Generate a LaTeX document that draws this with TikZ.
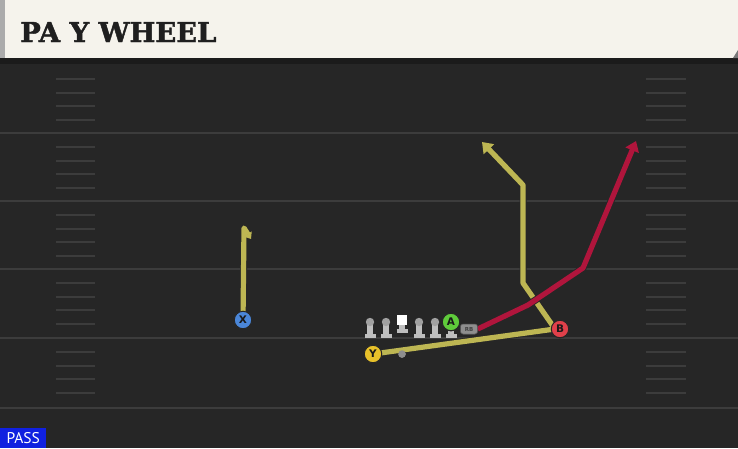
\documentclass[tikz,border=0pt]{standalone}
\usepackage{fontspec}
\usetikzlibrary{arrows.meta}
\newfontfamily\titlefont{DejaVu Serif}[BoldFeatures={FakeBold=1.6}]
\newfontfamily\labfont{DejaVu Sans}
\newfontfamily\passfont{PT Sans}
\definecolor{cream}{HTML}{F5F3EC}
\definecolor{stripgray}{HTML}{ABABAB}
\definecolor{fieldbg}{HTML}{262626}
\definecolor{bandbg}{HTML}{1B1B1B}
\definecolor{yardline}{HTML}{3C3C3C}
\definecolor{routey}{HTML}{BDB653}
\definecolor{router}{HTML}{B0153C}
\definecolor{pblue}{HTML}{4A86D8}
\definecolor{pyellow}{HTML}{E8C12A}
\definecolor{pred}{HTML}{E0404A}
\definecolor{pgreen}{HTML}{5FCB3B}
\definecolor{lgray}{HTML}{BEBEBE}
\definecolor{rbgray}{HTML}{8E8E8E}
\definecolor{passblue}{HTML}{1020E0}
\tikzset{
  player/.style={circle, draw=black!85, line width=1pt, minimum size=17.5pt, inner sep=0pt,
    font=\labfont\bfseries\fontsize{10.5}{10.5}\selectfont, text=black!90},
  route/.style={line width=5.2pt, line join=round, preaction={draw=black!85, line width=7pt}},
  yardl/.style={draw=yardline, line width=1.8pt},
  hashm/.style={draw=yardline, line width=1.3pt},
  rbbox/.style={fill=rbgray, draw=black!70, line width=0.5pt, rounded corners=2.5pt, minimum width=17pt, minimum height=10pt, inner sep=0pt,
    font=\labfont\bfseries\fontsize{5.5}{5.5}\selectfont, text=black!75},
  qbdot/.style={circle, fill=rbgray, minimum size=7.5pt, inner sep=0pt},
  lineman/.pic={
    \fill[lgray] (-5.5,-4) rectangle (5.5,0);
    \fill[lgray] (-3,-15) rectangle (3,-4);
    \fill[lgray!85!black] (0,-16) circle (4.2);
  },
  centerman/.pic={
    \fill[lgray] (-5.5,-4) rectangle (5.5,0);
    \fill[lgray] (-3,-8) rectangle (3,-4);
    \fill[white] (-4.8,-18) rectangle (4.8,-8);
  },
}
\begin{document}
\begin{tikzpicture}[x=1pt,y=-1pt]
\useasboundingbox (0,0) rectangle (738,448);
% field
\fill[fieldbg] (0,58) rectangle (738,448);
\fill[bandbg] (0,58) rectangle (738,64);
% yard lines
\foreach \yy in {133,201,269,338,408} {
  \draw[yardl] (0,\yy) -- (738,\yy);
}
% hash marks
\foreach \L in {65,133,201,269,338} {
  \foreach \d in {14,28,41,55} {
    \draw[hashm] (56,\L+\d) -- (95,\L+\d);
    \draw[hashm] (646,\L+\d) -- (686,\L+\d);
  }
}
% title bar
\fill[cream] (0,0) rectangle (738,58);
\fill[stripgray] (0,0) rectangle (5,58);
\fill[stripgray!70!black] (733,58) -- (738,50) -- (738,58) -- cycle;
\node[anchor=base west, inner sep=0pt, font=\titlefont\bfseries\fontsize{27.4}{28}\selectfont, text=black!88] (title) at (20,42) {PA Y WHEEL};
% pass tag
\node[fill=passblue, anchor=south west, minimum width=46pt, minimum height=20pt, inner sep=0pt,
  text=white, font=\passfont\fontsize{15.5}{16}\selectfont] (pass) at (0,448) {PASS};
% linemen
\foreach \xx in {370,386,419,435,451} {
  \pic at (\xx,338) {lineman};
}
\pic at (402,333) {centerman};
% coordinates
\coordinate (xa) at (244,228);
\coordinate (xb) at (251,239);
\coordinate (w1) at (555,329);
\coordinate (w2) at (523,283);
\coordinate (w3) at (523,185);
\coordinate (w4) at (482,142);
\coordinate (r1) at (528,305);
\coordinate (r2) at (583,268);
\coordinate (r3) at (636,141);
% players (placed first for names)
\node[player, fill=pblue] (X) at (243,320) {X};
\node[player, fill=pyellow] (Y) at (373,354) {Y};
\node[player, fill=pred] (B) at (560,329) {B};
\node[player, fill=pgreen] (A) at (451,322) {A};
\node[rbbox] (RB) at (469,329) {RB};
\node[qbdot] (qb) at (402,354) {};
% routes
\draw[route, draw=routey, -{Triangle[length=6pt,width=9pt]}] (X.center) -- (xa) -- (xb);
\draw[route, draw=routey, -{Triangle[length=10pt,width=14pt]}] (Y.center) -- (w1) -- (w2) -- (w3) -- (w4);
\draw[route, draw=router, -{Triangle[length=10pt,width=14pt]}] (RB.east) -- (r1) -- (r2) -- (r3);
% redraw players on top
\node[player, fill=pblue] at (X) {X};
\node[player, fill=pyellow] at (Y) {Y};
\node[player, fill=pred] at (B) {B};
\node[player, fill=pgreen] at (A) {A};
\node[rbbox] at (RB) {RB};
\node[qbdot] at (qb) {};
\end{tikzpicture}
\end{document}
